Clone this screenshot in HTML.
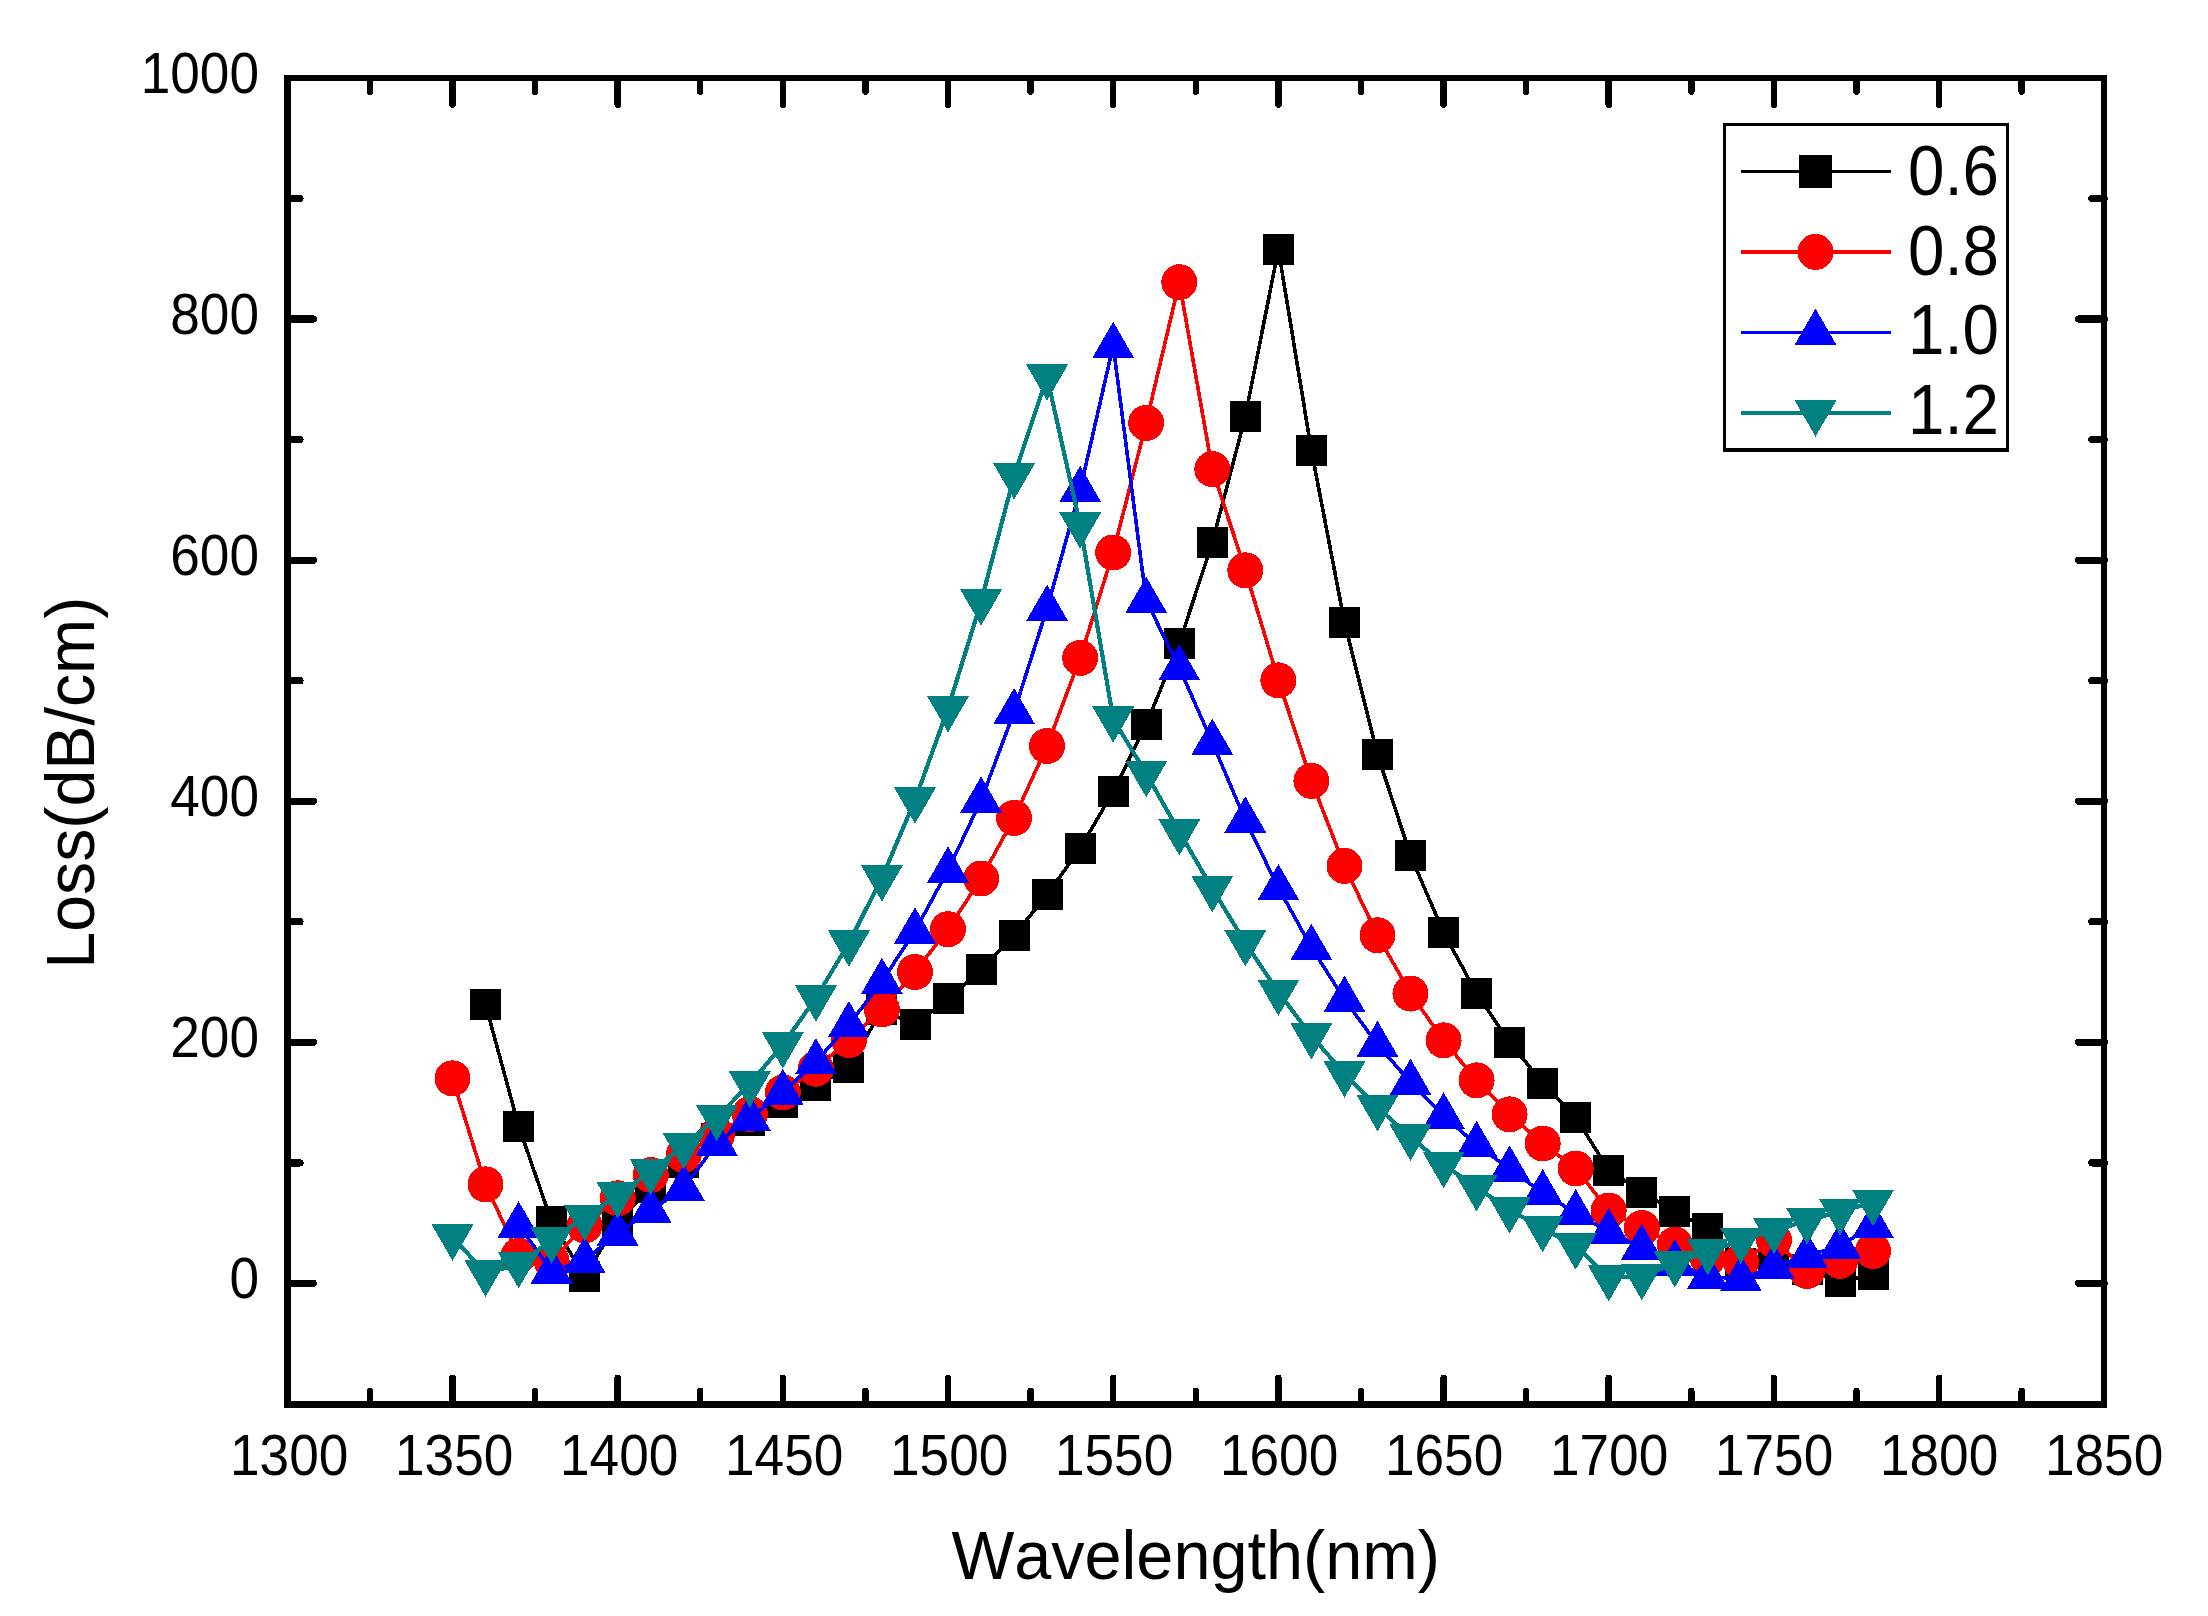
<!DOCTYPE html>
<html lang="en">
<head>
<meta charset="utf-8">
<title>Loss(dB/cm) vs Wavelength(nm)</title>
<style>
html,body{margin:0;padding:0;background:#fff;}
body{width:2208px;height:1616px;overflow:hidden;}
svg{display:block;}
text{font-kerning:none;}
</style>
</head>
<body>
<svg width="2208" height="1616" viewBox="0 0 2208 1616" font-family="'Liberation Sans', sans-serif" shape-rendering="crispEdges">
<rect x="0" y="0" width="2208" height="1616" fill="#fff"/>
<g stroke="#000" stroke-width="6.5" stroke-linecap="round" fill="none"><path d="M369.9 1404.3 V1391 M369.9 78 V91.6"/><path d="M452.5 1404.3 V1377.9 M452.5 78 V104.7"/><path d="M535.1 1404.3 V1391 M535.1 78 V91.6"/><path d="M617.7 1404.3 V1377.9 M617.7 78 V104.7"/><path d="M700.2 1404.3 V1391 M700.2 78 V91.6"/><path d="M782.8 1404.3 V1377.9 M782.8 78 V104.7"/><path d="M865.4 1404.3 V1391 M865.4 78 V91.6"/><path d="M948 1404.3 V1377.9 M948 78 V104.7"/><path d="M1030.6 1404.3 V1391 M1030.6 78 V91.6"/><path d="M1113.2 1404.3 V1377.9 M1113.2 78 V104.7"/><path d="M1195.8 1404.3 V1391 M1195.8 78 V91.6"/><path d="M1278.4 1404.3 V1377.9 M1278.4 78 V104.7"/><path d="M1361 1404.3 V1391 M1361 78 V91.6"/><path d="M1443.6 1404.3 V1377.9 M1443.6 78 V104.7"/><path d="M1526.1 1404.3 V1391 M1526.1 78 V91.6"/><path d="M1608.7 1404.3 V1377.9 M1608.7 78 V104.7"/><path d="M1691.3 1404.3 V1391 M1691.3 78 V91.6"/><path d="M1773.9 1404.3 V1377.9 M1773.9 78 V104.7"/><path d="M1856.5 1404.3 V1391 M1856.5 78 V91.6"/><path d="M1939.1 1404.3 V1377.9 M1939.1 78 V104.7"/><path d="M2021.7 1404.3 V1391 M2021.7 78 V91.6"/><path stroke-width="7.2" d="M287.6 1283.4 H313.3 M2104.3 1283.4 H2078.6"/><path stroke-width="7.2" d="M287.6 1162.9 H300 M2104.3 1162.9 H2091.9"/><path stroke-width="7.2" d="M287.6 1042.3 H313.3 M2104.3 1042.3 H2078.6"/><path stroke-width="7.2" d="M287.6 921.8 H300 M2104.3 921.8 H2091.9"/><path stroke-width="7.2" d="M287.6 801.2 H313.3 M2104.3 801.2 H2078.6"/><path stroke-width="7.2" d="M287.6 680.7 H300 M2104.3 680.7 H2091.9"/><path stroke-width="7.2" d="M287.6 560.1 H313.3 M2104.3 560.1 H2078.6"/><path stroke-width="7.2" d="M287.6 439.6 H300 M2104.3 439.6 H2091.9"/><path stroke-width="7.2" d="M287.6 319 H313.3 M2104.3 319 H2078.6"/><path stroke-width="7.2" d="M287.6 198.5 H300 M2104.3 198.5 H2091.9"/></g>
<path fill="#000" d="M284.2 74.9 H2106.9 V1407.7 H284.2 Z M291 81.1 V1401.1 H2101.2 V81.1 Z"/>
<g><text transform="translate(289.2 1475.3) scale(1 1.065)" font-size="53.2" text-anchor="middle" fill="#000">1300</text><text transform="translate(454.2 1475.3) scale(1 1.065)" font-size="53.2" text-anchor="middle" fill="#000">1350</text><text transform="translate(619.2 1475.3) scale(1 1.065)" font-size="53.2" text-anchor="middle" fill="#000">1400</text><text transform="translate(784.2 1475.3) scale(1 1.065)" font-size="53.2" text-anchor="middle" fill="#000">1450</text><text transform="translate(949.2 1475.3) scale(1 1.065)" font-size="53.2" text-anchor="middle" fill="#000">1500</text><text transform="translate(1114.1 1475.3) scale(1 1.065)" font-size="53.2" text-anchor="middle" fill="#000">1550</text><text transform="translate(1279.1 1475.3) scale(1 1.065)" font-size="53.2" text-anchor="middle" fill="#000">1600</text><text transform="translate(1444.1 1475.3) scale(1 1.065)" font-size="53.2" text-anchor="middle" fill="#000">1650</text><text transform="translate(1609.1 1475.3) scale(1 1.065)" font-size="53.2" text-anchor="middle" fill="#000">1700</text><text transform="translate(1774.1 1475.3) scale(1 1.065)" font-size="53.2" text-anchor="middle" fill="#000">1750</text><text transform="translate(1939.1 1475.3) scale(1 1.065)" font-size="53.2" text-anchor="middle" fill="#000">1800</text><text transform="translate(2104.1 1475.3) scale(1 1.065)" font-size="53.2" text-anchor="middle" fill="#000">1850</text><text transform="translate(259 1298.4) scale(1 1.065)" font-size="53.2" text-anchor="end" fill="#000">0</text><text transform="translate(259 1057.3) scale(1 1.065)" font-size="53.2" text-anchor="end" fill="#000">200</text><text transform="translate(259 816.2) scale(1 1.065)" font-size="53.2" text-anchor="end" fill="#000">400</text><text transform="translate(259 575.1) scale(1 1.065)" font-size="53.2" text-anchor="end" fill="#000">600</text><text transform="translate(259 334) scale(1 1.065)" font-size="53.2" text-anchor="end" fill="#000">800</text><text transform="translate(259 92.9) scale(1 1.065)" font-size="53.2" text-anchor="end" fill="#000">1000</text></g>
<text transform="translate(1195.6 1579) scale(1 1.02)" font-size="66.6" text-anchor="middle" fill="#000">Wavelength(nm)</text>
<text transform="translate(94.4 782.7) rotate(-90) scale(1 1.04)" font-size="66.3" text-anchor="middle" fill="#000">Loss(dB/cm)</text>
<g fill="#000000" stroke="none">
<polyline points="485.5,1004.5 518.6,1126 551.6,1221.7 584.6,1276.5 617.7,1222 650.7,1187 683.7,1162 716.8,1138 749.8,1120.5 782.8,1102.5 815.9,1085.5 848.9,1067.6 881.9,1009.5 915,1024.6 948,998.9 981.1,969.5 1014.1,935.5 1047.1,894.6 1080.2,848.4 1113.2,791.6 1146.2,724.6 1179.3,643.4 1212.3,542.5 1245.3,416.5 1278.4,249.5 1311.4,450.4 1344.5,622.5 1377.5,754.4 1410.5,855.5 1443.6,932.5 1476.6,993.4 1509.6,1042.2 1542.7,1083 1575.7,1117.3 1608.7,1170 1641.8,1192 1674.8,1211.5 1707.8,1228.4 1740.9,1263 1773.9,1262.5 1807,1269.5 1840,1281.3 1873,1274.5" fill="none" stroke="#000000" stroke-width="3.6" stroke-linejoin="round"/>
<rect x="470" y="989" width="31" height="31"/>
<rect x="503.1" y="1110.5" width="31" height="31"/>
<rect x="536.1" y="1206.2" width="31" height="31"/>
<rect x="569.1" y="1261" width="31" height="31"/>
<rect x="602.2" y="1206.5" width="31" height="31"/>
<rect x="635.2" y="1171.5" width="31" height="31"/>
<rect x="668.2" y="1146.5" width="31" height="31"/>
<rect x="701.3" y="1122.5" width="31" height="31"/>
<rect x="734.3" y="1105" width="31" height="31"/>
<rect x="767.3" y="1087" width="31" height="31"/>
<rect x="800.4" y="1070" width="31" height="31"/>
<rect x="833.4" y="1052.1" width="31" height="31"/>
<rect x="866.4" y="994" width="31" height="31"/>
<rect x="899.5" y="1009.1" width="31" height="31"/>
<rect x="932.5" y="983.4" width="31" height="31"/>
<rect x="965.6" y="954" width="31" height="31"/>
<rect x="998.6" y="920" width="31" height="31"/>
<rect x="1031.6" y="879.1" width="31" height="31"/>
<rect x="1064.7" y="832.9" width="31" height="31"/>
<rect x="1097.7" y="776.1" width="31" height="31"/>
<rect x="1130.7" y="709.1" width="31" height="31"/>
<rect x="1163.8" y="627.9" width="31" height="31"/>
<rect x="1196.8" y="527" width="31" height="31"/>
<rect x="1229.8" y="401" width="31" height="31"/>
<rect x="1262.9" y="234" width="31" height="31"/>
<rect x="1295.9" y="434.9" width="31" height="31"/>
<rect x="1329" y="607" width="31" height="31"/>
<rect x="1362" y="738.9" width="31" height="31"/>
<rect x="1395" y="840" width="31" height="31"/>
<rect x="1428.1" y="917" width="31" height="31"/>
<rect x="1461.1" y="977.9" width="31" height="31"/>
<rect x="1494.1" y="1026.7" width="31" height="31"/>
<rect x="1527.2" y="1067.5" width="31" height="31"/>
<rect x="1560.2" y="1101.8" width="31" height="31"/>
<rect x="1593.2" y="1154.5" width="31" height="31"/>
<rect x="1626.3" y="1176.5" width="31" height="31"/>
<rect x="1659.3" y="1196" width="31" height="31"/>
<rect x="1692.3" y="1212.9" width="31" height="31"/>
<rect x="1725.4" y="1247.5" width="31" height="31"/>
<rect x="1758.4" y="1247" width="31" height="31"/>
<rect x="1791.5" y="1254" width="31" height="31"/>
<rect x="1824.5" y="1265.8" width="31" height="31"/>
<rect x="1857.5" y="1259" width="31" height="31"/>
</g>

<g fill="#ff0000" stroke="none">
<polyline points="452.5,1078.4 485.5,1184.4 518.6,1255.7 551.6,1261 584.6,1225.5 617.7,1198.3 650.7,1175 683.7,1155 716.8,1135 749.8,1114 782.8,1092.5 815.9,1068.7 848.9,1040 881.9,1009.3 915,972 948,929.2 981.1,878.5 1014.1,817.9 1047.1,745.9 1080.2,657.9 1113.2,552.5 1146.2,422.9 1179.3,282.2 1212.3,469.1 1245.3,570.3 1278.4,680.4 1311.4,780.9 1344.5,866 1377.5,935.3 1410.5,993.5 1443.6,1040.4 1476.6,1080.4 1509.6,1114.4 1542.7,1143.5 1575.7,1168.5 1608.7,1210.5 1641.8,1228 1674.8,1244.5 1707.8,1258 1740.9,1262 1773.9,1240 1807,1271 1840,1260.9 1873,1251" fill="none" stroke="#ff0000" stroke-width="3.6" stroke-linejoin="round"/>
<circle cx="452.5" cy="1078.4" r="18"/>
<circle cx="485.5" cy="1184.4" r="18"/>
<circle cx="518.6" cy="1255.7" r="18"/>
<circle cx="551.6" cy="1261" r="18"/>
<circle cx="584.6" cy="1225.5" r="18"/>
<circle cx="617.7" cy="1198.3" r="18"/>
<circle cx="650.7" cy="1175" r="18"/>
<circle cx="683.7" cy="1155" r="18"/>
<circle cx="716.8" cy="1135" r="18"/>
<circle cx="749.8" cy="1114" r="18"/>
<circle cx="782.8" cy="1092.5" r="18"/>
<circle cx="815.9" cy="1068.7" r="18"/>
<circle cx="848.9" cy="1040" r="18"/>
<circle cx="881.9" cy="1009.3" r="18"/>
<circle cx="915" cy="972" r="18"/>
<circle cx="948" cy="929.2" r="18"/>
<circle cx="981.1" cy="878.5" r="18"/>
<circle cx="1014.1" cy="817.9" r="18"/>
<circle cx="1047.1" cy="745.9" r="18"/>
<circle cx="1080.2" cy="657.9" r="18"/>
<circle cx="1113.2" cy="552.5" r="18"/>
<circle cx="1146.2" cy="422.9" r="18"/>
<circle cx="1179.3" cy="282.2" r="18"/>
<circle cx="1212.3" cy="469.1" r="18"/>
<circle cx="1245.3" cy="570.3" r="18"/>
<circle cx="1278.4" cy="680.4" r="18"/>
<circle cx="1311.4" cy="780.9" r="18"/>
<circle cx="1344.5" cy="866" r="18"/>
<circle cx="1377.5" cy="935.3" r="18"/>
<circle cx="1410.5" cy="993.5" r="18"/>
<circle cx="1443.6" cy="1040.4" r="18"/>
<circle cx="1476.6" cy="1080.4" r="18"/>
<circle cx="1509.6" cy="1114.4" r="18"/>
<circle cx="1542.7" cy="1143.5" r="18"/>
<circle cx="1575.7" cy="1168.5" r="18"/>
<circle cx="1608.7" cy="1210.5" r="18"/>
<circle cx="1641.8" cy="1228" r="18"/>
<circle cx="1674.8" cy="1244.5" r="18"/>
<circle cx="1707.8" cy="1258" r="18"/>
<circle cx="1740.9" cy="1262" r="18"/>
<circle cx="1773.9" cy="1240" r="18"/>
<circle cx="1807" cy="1271" r="18"/>
<circle cx="1840" cy="1260.9" r="18"/>
<circle cx="1873" cy="1251" r="18"/>
</g>

<g fill="#0000ff" stroke="none">
<polyline points="518.6,1225 551.6,1271 584.6,1260.3 617.7,1233.3 650.7,1210.3 683.7,1188.1 716.8,1143.2 749.8,1118.4 782.8,1092.5 815.9,1061.8 848.9,1024.7 881.9,981.5 915,931 948,870.2 981.1,800.2 1014.1,711.8 1047.1,608.4 1080.2,489.6 1113.2,345.5 1146.2,600.5 1179.3,667.8 1212.3,742.4 1245.3,820.2 1278.4,887.8 1311.4,947.5 1344.5,999.5 1377.5,1044.5 1410.5,1082.4 1443.6,1116 1476.6,1144.6 1509.6,1169.2 1542.7,1192.8 1575.7,1212.8 1608.7,1231.8 1641.8,1247.5 1674.8,1263 1707.8,1276.7 1740.9,1278.7 1773.9,1266.8 1807,1255.8 1840,1245.9 1873,1225.5" fill="none" stroke="#0000ff" stroke-width="3.6" stroke-linejoin="round"/>
<polygon points="518.6,1201.2 539.6,1237.6 497.6,1237.6"/>
<polygon points="551.6,1247.2 572.6,1283.6 530.6,1283.6"/>
<polygon points="584.6,1236.5 605.6,1272.9 563.6,1272.9"/>
<polygon points="617.7,1209.5 638.7,1245.9 596.7,1245.9"/>
<polygon points="650.7,1186.5 671.7,1222.9 629.7,1222.9"/>
<polygon points="683.7,1164.3 704.7,1200.7 662.7,1200.7"/>
<polygon points="716.8,1119.4 737.8,1155.8 695.8,1155.8"/>
<polygon points="749.8,1094.6 770.8,1131 728.8,1131"/>
<polygon points="782.8,1068.7 803.8,1105.1 761.8,1105.1"/>
<polygon points="815.9,1038 836.9,1074.4 794.9,1074.4"/>
<polygon points="848.9,1000.9 869.9,1037.3 827.9,1037.3"/>
<polygon points="881.9,957.7 902.9,994.1 860.9,994.1"/>
<polygon points="915,907.2 936,943.6 894,943.6"/>
<polygon points="948,846.4 969,882.8 927,882.8"/>
<polygon points="981.1,776.4 1002.1,812.8 960.1,812.8"/>
<polygon points="1014.1,688 1035.1,724.4 993.1,724.4"/>
<polygon points="1047.1,584.6 1068.1,621 1026.1,621"/>
<polygon points="1080.2,465.8 1101.2,502.2 1059.2,502.2"/>
<polygon points="1113.2,321.7 1134.2,358.1 1092.2,358.1"/>
<polygon points="1146.2,576.7 1167.2,613.1 1125.2,613.1"/>
<polygon points="1179.3,644 1200.3,680.4 1158.3,680.4"/>
<polygon points="1212.3,718.6 1233.3,755 1191.3,755"/>
<polygon points="1245.3,796.4 1266.3,832.8 1224.3,832.8"/>
<polygon points="1278.4,864 1299.4,900.4 1257.4,900.4"/>
<polygon points="1311.4,923.7 1332.4,960.1 1290.4,960.1"/>
<polygon points="1344.5,975.7 1365.5,1012.1 1323.5,1012.1"/>
<polygon points="1377.5,1020.7 1398.5,1057.1 1356.5,1057.1"/>
<polygon points="1410.5,1058.6 1431.5,1095 1389.5,1095"/>
<polygon points="1443.6,1092.2 1464.6,1128.6 1422.6,1128.6"/>
<polygon points="1476.6,1120.8 1497.6,1157.2 1455.6,1157.2"/>
<polygon points="1509.6,1145.4 1530.6,1181.8 1488.6,1181.8"/>
<polygon points="1542.7,1169 1563.7,1205.4 1521.7,1205.4"/>
<polygon points="1575.7,1189 1596.7,1225.4 1554.7,1225.4"/>
<polygon points="1608.7,1208 1629.7,1244.4 1587.7,1244.4"/>
<polygon points="1641.8,1223.7 1662.8,1260.1 1620.8,1260.1"/>
<polygon points="1674.8,1239.2 1695.8,1275.6 1653.8,1275.6"/>
<polygon points="1707.8,1252.9 1728.8,1289.3 1686.8,1289.3"/>
<polygon points="1740.9,1254.9 1761.9,1291.3 1719.9,1291.3"/>
<polygon points="1773.9,1243 1794.9,1279.4 1752.9,1279.4"/>
<polygon points="1807,1232 1828,1268.4 1786,1268.4"/>
<polygon points="1840,1222.1 1861,1258.5 1819,1258.5"/>
<polygon points="1873,1201.7 1894,1238.1 1852,1238.1"/>
</g>

<g fill="#008080" stroke="none">
<polyline points="452.5,1237 485.5,1273 518.6,1264.5 551.6,1240 584.6,1217.3 617.7,1195 650.7,1171.5 683.7,1145.8 716.8,1117.4 749.8,1084 782.8,1044.7 815.9,998 848.9,943 881.9,877.8 915,800 948,708.6 981.1,601.8 1014.1,475.8 1047.1,377 1080.2,525 1113.2,719 1146.2,773.6 1179.3,831.8 1212.3,888.6 1245.3,942.8 1278.4,992.2 1311.4,1035.8 1344.5,1073.8 1377.5,1107.5 1410.5,1137 1443.6,1164.5 1476.6,1187.6 1509.6,1209.8 1542.7,1228.5 1575.7,1246 1608.7,1277.6 1641.8,1276.5 1674.8,1263.7 1707.8,1251.7 1740.9,1240.5 1773.9,1230.6 1807,1220.7 1840,1211.6 1873,1202.4" fill="none" stroke="#008080" stroke-width="4.2" stroke-linejoin="round"/>
<polygon points="452.5,1260.8 473.5,1224.4 431.5,1224.4"/>
<polygon points="485.5,1296.8 506.5,1260.4 464.5,1260.4"/>
<polygon points="518.6,1288.3 539.6,1251.9 497.6,1251.9"/>
<polygon points="551.6,1263.8 572.6,1227.4 530.6,1227.4"/>
<polygon points="584.6,1241.1 605.6,1204.7 563.6,1204.7"/>
<polygon points="617.7,1218.8 638.7,1182.4 596.7,1182.4"/>
<polygon points="650.7,1195.3 671.7,1158.9 629.7,1158.9"/>
<polygon points="683.7,1169.6 704.7,1133.2 662.7,1133.2"/>
<polygon points="716.8,1141.2 737.8,1104.8 695.8,1104.8"/>
<polygon points="749.8,1107.8 770.8,1071.4 728.8,1071.4"/>
<polygon points="782.8,1068.5 803.8,1032.1 761.8,1032.1"/>
<polygon points="815.9,1021.8 836.9,985.4 794.9,985.4"/>
<polygon points="848.9,966.8 869.9,930.4 827.9,930.4"/>
<polygon points="881.9,901.6 902.9,865.2 860.9,865.2"/>
<polygon points="915,823.8 936,787.4 894,787.4"/>
<polygon points="948,732.4 969,696 927,696"/>
<polygon points="981.1,625.6 1002.1,589.2 960.1,589.2"/>
<polygon points="1014.1,499.6 1035.1,463.2 993.1,463.2"/>
<polygon points="1047.1,400.8 1068.1,364.4 1026.1,364.4"/>
<polygon points="1080.2,548.8 1101.2,512.4 1059.2,512.4"/>
<polygon points="1113.2,742.8 1134.2,706.4 1092.2,706.4"/>
<polygon points="1146.2,797.4 1167.2,761 1125.2,761"/>
<polygon points="1179.3,855.6 1200.3,819.2 1158.3,819.2"/>
<polygon points="1212.3,912.4 1233.3,876 1191.3,876"/>
<polygon points="1245.3,966.6 1266.3,930.2 1224.3,930.2"/>
<polygon points="1278.4,1016 1299.4,979.6 1257.4,979.6"/>
<polygon points="1311.4,1059.6 1332.4,1023.2 1290.4,1023.2"/>
<polygon points="1344.5,1097.6 1365.5,1061.2 1323.5,1061.2"/>
<polygon points="1377.5,1131.3 1398.5,1094.9 1356.5,1094.9"/>
<polygon points="1410.5,1160.8 1431.5,1124.4 1389.5,1124.4"/>
<polygon points="1443.6,1188.3 1464.6,1151.9 1422.6,1151.9"/>
<polygon points="1476.6,1211.4 1497.6,1175 1455.6,1175"/>
<polygon points="1509.6,1233.6 1530.6,1197.2 1488.6,1197.2"/>
<polygon points="1542.7,1252.3 1563.7,1215.9 1521.7,1215.9"/>
<polygon points="1575.7,1269.8 1596.7,1233.4 1554.7,1233.4"/>
<polygon points="1608.7,1301.4 1629.7,1265 1587.7,1265"/>
<polygon points="1641.8,1300.3 1662.8,1263.9 1620.8,1263.9"/>
<polygon points="1674.8,1287.5 1695.8,1251.1 1653.8,1251.1"/>
<polygon points="1707.8,1275.5 1728.8,1239.1 1686.8,1239.1"/>
<polygon points="1740.9,1264.3 1761.9,1227.9 1719.9,1227.9"/>
<polygon points="1773.9,1254.4 1794.9,1218 1752.9,1218"/>
<polygon points="1807,1244.5 1828,1208.1 1786,1208.1"/>
<polygon points="1840,1235.4 1861,1199 1819,1199"/>
<polygon points="1873,1226.2 1894,1189.8 1852,1189.8"/>
</g>

<g><path fill="#000" fill-rule="evenodd" d="M1722.9 122.9 H2009 V452 H1722.9 Z M1725.9 125.9 V448.1 H2006 V125.9 Z"/><g fill="#000000"><path d="M1741 171.4 H1891" stroke="#000000" stroke-width="3" fill="none"/><rect x="1799" y="154.9" width="33" height="33"/></g><text transform="translate(1907.9 195) scale(1 1.085)" font-size="65.6" text-anchor="start" fill="#000">0.6</text><g fill="#ff0000"><path d="M1741 252 H1891" stroke="#ff0000" stroke-width="3.2" fill="none"/><circle cx="1815.5" cy="252" r="18"/></g><text transform="translate(1907.9 275.2) scale(1 1.085)" font-size="65.6" text-anchor="start" fill="#000">0.8</text><g fill="#0000ff"><path d="M1741 332.4 H1891" stroke="#0000ff" stroke-width="3.2" fill="none"/><polygon points="1815.5,308.6 1836.5,345 1794.5,345"/></g><text transform="translate(1907.9 354.3) scale(1 1.085)" font-size="65.6" text-anchor="start" fill="#000">1.0</text><g fill="#008080"><path d="M1741 412.8 H1891" stroke="#008080" stroke-width="4.6" fill="none"/><polygon points="1815.5,436.6 1836.5,400.2 1794.5,400.2"/></g><text transform="translate(1907.9 434.3) scale(1 1.085)" font-size="65.6" text-anchor="start" fill="#000">1.2</text></g>
</svg>
</body>
</html>
